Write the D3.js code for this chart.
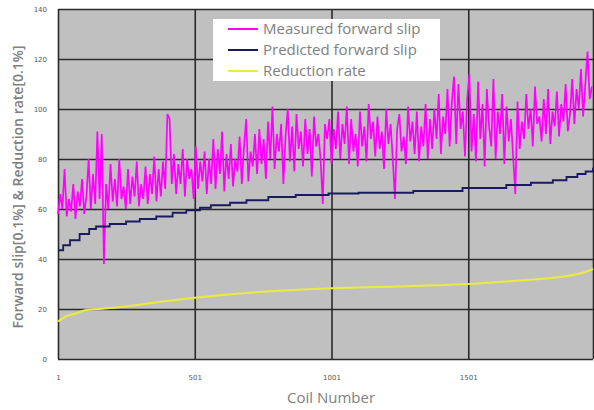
<!DOCTYPE html>
<html>
<head>
<meta charset="utf-8">
<script src="https://cdn.jsdelivr.net/npm/d3@7"></script>
<style>
  body { margin: 0; background: #fff; }
  svg { display: block; }
</style>
</head>
<body>
<div class="main"></div>
<script>
// Paramètres
const width = 594;
const height = 410;
const margin = { top: 9, right: 1, bottom: 51, left: 58 };

// Données
const yTicks = [0, 20, 40, 60, 80, 100, 120, 140];
const xTicks = [1, 501, 1001, 1501];
const lastCoil = 1957;
const measuredStep = 8; // un échantillon toutes les 8 bobines

const measured = [
  58, 66, 60, 76, 57, 64, 59, 70, 56, 67, 61, 72, 58, 65, 80, 60, 74, 62,
  91, 64, 90, 38,
  70, 60, 78, 63, 72, 61, 80, 64, 69, 60, 76, 62, 73, 65, 79, 61, 70, 64, 77, 62, 74, 66, 81, 63,
  76, 65, 79, 68, 98, 96, 70,
  82, 66, 78, 70, 84, 65, 80, 72, 76, 64, 85, 68, 79, 71, 83, 66,
  80, 70, 88, 68, 84, 74, 91, 67, 82, 72, 86, 69, 80, 75, 89, 70, 85, 96, 71, 83, 77, 90,
  74, 92, 78, 88, 72, 95, 80, 101, 76, 90, 83, 94, 70, 89, 100, 79, 93, 75, 98, 84, 91, 77, 96, 82, 92, 73, 97, 85,
  90, 80, 62, 94,
  88, 96, 78, 92, 84, 99,
  80, 94, 86, 101, 78, 96, 83, 90, 77, 99, 85, 93, 79, 102, 88, 95, 81, 97, 84, 91, 76, 100, 86, 94, 80, 64,
  92, 98, 83, 89, 78, 101, 87, 95, 82, 99, 79, 93, 85, 102, 80, 96,
  84, 100, 88, 106, 82, 97, 90, 108, 85, 103, 113, 86, 110, 92, 99, 81,
  104, 114, 83, 98, 79, 111, 88, 102, 77, 108, 93, 85, 112, 80, 99, 90, 106, 78, 101, 87, 96, 81, 66, 103, 84, 95,
  88, 106, 92, 100, 85, 109, 94, 97, 87, 104, 90, 108, 86, 99, 93, 107, 89, 102, 95, 110, 91,
  98, 112, 94, 108, 100, 116, 97, 110, 123, 104, 109
];

const predCoil = [1, 20, 45, 80, 115, 140, 190, 250, 300, 360, 420, 470, 520, 560, 630, 690, 770, 870, 990, 1100, 1300, 1480, 1640, 1730, 1810, 1860, 1900, 1930, 1957];
const predVal  = [43.5, 45.5, 47.5, 50, 52, 53, 54, 55, 56, 57, 58.5, 59.5, 60.5, 61.5, 62.5, 63.5, 64.8, 65.6, 66.2, 66.5, 67.2, 68.4, 69.6, 70.5, 71.5, 72.8, 74, 75, 76.5];

const redCoil = [1, 30, 60, 100, 150, 250, 350, 501, 700, 1001, 1300, 1501, 1700, 1850, 1920, 1957];
const redVal  = [15, 17, 18, 19.5, 20, 21, 22.5, 24.5, 26.5, 28.3, 29.2, 30, 31.5, 33, 34.5, 36];

const series = [
  { name: 'Measured forward slip', color: '#ff00ff' },
  { name: 'Predicted forward slip', color: '#1a1a5e' },
  { name: 'Reduction rate', color: '#ecec3c' }
];

const svg = d3.select('.main')
  .append('svg')
  .attr('width', width)
  .attr('height', height)

// Échelles
const x = d3.scaleLinear()
  .domain([1, lastCoil])
  .range([margin.left, width - margin.right])

const y = d3.scaleLinear()
  .domain([0, 140])
  .range([height - margin.bottom, margin.top])

// Fond de la zone de tracé
svg.append('rect')
  .attr('x', margin.left)
  .attr('y', margin.top)
  .attr('width', width - margin.right - margin.left)
  .attr('height', y(0) - margin.top)
  .attr('fill', '#c0c0c0')

// Grille
svg.append('g')
  .attr('transform', `translate(${margin.left}, 0)`)
  .call(d3.axisLeft(y).tickValues(yTicks).tickSize(-(width - margin.right - margin.left)).tickFormat(''))
  .call(g => g.select('.domain').remove())
  .call(g => g.selectAll('line').attr('stroke', '#2a2a2a').attr('stroke-width', 1.6))

svg.append('g')
  .attr('transform', `translate(0, ${height - margin.bottom})`)
  .call(d3.axisBottom(x).tickValues(xTicks.concat([lastCoil])).tickSize(-(y(0) - margin.top)).tickFormat(''))
  .call(g => g.select('.domain').remove())
  .call(g => g.selectAll('line').attr('stroke', '#2a2a2a').attr('stroke-width', 1.6))

// Courbes
const measuredData = measured.map((v, i) => ({ coil: 1 + i * measuredStep, v }));
const predData = predCoil.map((c, i) => ({ coil: c, v: predVal[i] }));
const redData = redCoil.map((c, i) => ({ coil: c, v: redVal[i] }));

svg.append('path')
  .datum(redData)
  .attr('fill', 'none')
  .attr('stroke', series[2].color)
  .attr('stroke-width', 2)
  .attr('d', d3.line().x(d => x(d.coil)).y(d => y(d.v)).curve(d3.curveMonotoneX))

svg.append('path')
  .datum(measuredData)
  .attr('fill', 'none')
  .attr('stroke', series[0].color)
  .attr('stroke-width', 1.7)
  .attr('stroke-linejoin', 'miter')
  .attr('d', d3.line().x(d => x(d.coil)).y(d => y(d.v)))

svg.append('path')
  .datum(predData)
  .attr('fill', 'none')
  .attr('stroke', series[1].color)
  .attr('stroke-width', 1.8)
  .attr('d', d3.line().x(d => x(d.coil)).y(d => y(d.v)).curve(d3.curveStepAfter))

// Axes (étiquettes)
svg.append('g')
  .attr('transform', `translate(${margin.left - 8}, 0)`)
  .call(d3.axisLeft(y).tickValues(yTicks).tickSize(0))
  .call(g => g.select('.domain').remove())
  .call(g => g.selectAll('text').attr('fill', '#555').style('font', '7px "DejaVu Sans"'))

svg.append('g')
  .attr('transform', `translate(0, ${height - margin.bottom + 13})`)
  .call(d3.axisBottom(x).tickValues(xTicks).tickSize(0).tickFormat(d3.format('d')))
  .call(g => g.select('.domain').remove())
  .call(g => g.selectAll('text').attr('fill', '#555').style('font', '7px "DejaVu Sans"'))

// Titres
svg.append('text')
  .attr('transform', `translate(23, ${(margin.top + y(0)) / 2 + 3}) rotate(-90)`)
  .attr('text-anchor', 'middle')
  .attr('fill', '#808080')
  .style('font', '600 14px "Open Sans"')
  .text('Forward slip[0.1%]  & Reduction rate[0.1%]')

svg.append('text')
  .attr('x', 331)
  .attr('y', 403)
  .attr('text-anchor', 'middle')
  .attr('fill', '#808080')
  .style('font', '15px "Open Sans"')
  .text('Coil Number')

// Légende
const legend = svg.append('g').attr('transform', 'translate(213, 19)')
legend.append('rect')
  .attr('width', 227)
  .attr('height', 62)
  .attr('fill', '#fff')

const item = legend.selectAll('g')
  .data(series)
  .enter()
  .append('g')
  .attr('transform', (d, i) => `translate(0, ${10 + i * 21})`)

item.append('line')
  .attr('x1', 15).attr('x2', 45)
  .attr('stroke', d => d.color)
  .attr('stroke-width', 2)

item.append('text')
  .attr('x', 50)
  .attr('dy', '0.35em')
  .attr('fill', '#808080')
  .style('font', '15px "Open Sans"')
  .text(d => d.name)
</script>
</body>
</html>
